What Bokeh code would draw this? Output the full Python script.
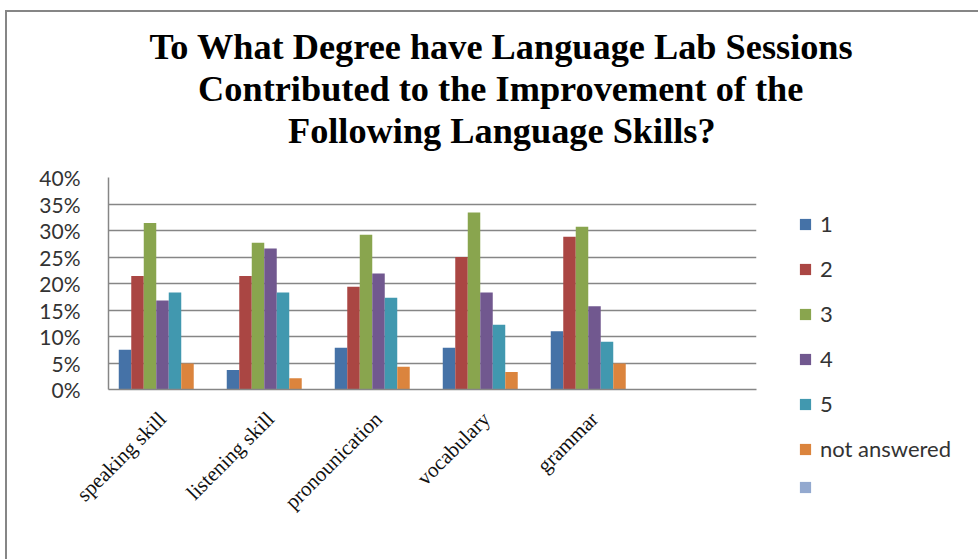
import math
from bokeh.plotting import figure
from bokeh.models import (FactorRange, ColumnDataSource, Legend, LegendItem, Title,
                          NumeralTickFormatter, FixedTicker)
from bokeh.transform import dodge
from bokeh.core.properties import value
from bokeh.embed import file_html
from bokeh.resources import INLINE

# ---------------- data ----------------
categories = ["speaking skill", "listening skill", "pronounication", "vocabulary", "grammar"]
blank_category = " "
series_names = ["1", "2", "3", "4", "5", "not answered", " "]
s1 = [0.075, 0.037, 0.079, 0.079, 0.110]
s2 = [0.214, 0.214, 0.194, 0.250, 0.288]
s3 = [0.314, 0.277, 0.292, 0.334, 0.307]
s4 = [0.168, 0.266, 0.219, 0.183, 0.157]
s5 = [0.183, 0.183, 0.173, 0.122, 0.090]
s_na = [0.049, 0.021, 0.043, 0.033, 0.049]
s_blank = [None, None, None, None, None]
y_ticks = [0, 0.05, 0.10, 0.15, 0.20, 0.25, 0.30, 0.35, 0.40]
title_lines = ["To What Degree have Language Lab Sessions",
               "Contributed to the Improvement of the",
               "Following Language Skills?"]

colors = ["#4572A7", "#AA4643", "#89A54E", "#71588F", "#4198AF", "#DB843D", "#93A9CF"]
series = [s1, s2, s3, s4, s5, s_na, s_blank]

data = {"cat": categories}
keys = []
for i, s in enumerate(series):
    k = f"s{i}"
    keys.append(k)
    data[k] = [float("nan") if v is None else v for v in s]
source = ColumnDataSource(data)

# page offset of the chart box (outer border)
OX, OY, BW = 5, 10, 2
FL, FT, FR, FB = 108, 177, 756, 389   # frame in page pixels
PAGE_W, PAGE_H = 978, 559
p = figure(frame_width=FR - FL, frame_height=FB - FT,
           output_backend="svg", toolbar_location=None,
           x_range=FactorRange(*(categories + [blank_category])),
           y_range=(0, 0.40),
           min_border_left=FL - OX - BW, min_border_right=PAGE_W - FR,
           min_border_top=FT - OY - BW, min_border_bottom=PAGE_H - FB)
p.margin = (OY, 0, 0, OX)
p.styles = {"border-left": f"{BW}px solid #868686", "border-top": f"{BW}px solid #868686",
            "border-right": "none", "border-bottom": "none",
            "box-sizing": "content-box", "overflow": "hidden"}
p.outline_line_color = None
p.background_fill_color = "white"
p.border_fill_color = "white"

bar_w = 0.1157
n = len(series)
renderers = []
for i, k in enumerate(keys):
    off = (i - (n - 1) / 2) * bar_w
    r = p.vbar(x=dodge("cat", off, range=p.x_range), top=k, width=bar_w, bottom=0,
               source=source, fill_color=colors[i], line_color=None)
    renderers.append(r)

items = [LegendItem(label=value(name), renderers=[r]) for name, r in zip(series_names, renderers)]
legend = Legend(items=items, location=(42, -105), padding=0, margin=0,
                spacing=18, label_height=14, glyph_height=14, glyph_width=14,
                label_standoff=8, label_text_font="Lato",
                label_text_font_size="22px", label_text_color="#333333",
                border_line_color=None, background_fill_alpha=0)
p.add_layout(legend, "right")

# axes
p.yaxis.ticker = FixedTicker(ticks=y_ticks)
p.yaxis.formatter = NumeralTickFormatter(format="0%")
p.yaxis.major_tick_line_color = None
p.yaxis.minor_tick_line_color = None
p.yaxis.axis_line_color = "#868686"
p.yaxis.axis_line_width = 1.5
p.yaxis.major_label_text_font = "Lato"
p.yaxis.major_label_text_font_size = "21px"
p.yaxis.major_label_text_color = "#333333"
p.yaxis.major_label_standoff = 22

p.xaxis.major_tick_line_color = None
p.xaxis.minor_tick_line_color = None
p.xaxis.axis_line_color = "#868686"
p.xaxis.axis_line_width = 1.5
p.xaxis.major_label_orientation = math.pi / 4
p.xaxis.major_label_text_font = "Liberation Serif"
p.xaxis.major_label_text_font_size = "21px"
p.xaxis.major_label_text_color = "#111111"
p.xaxis.major_label_standoff = 20

p.xgrid.grid_line_color = None
p.ygrid.grid_line_color = "#868686"
p.ygrid.grid_line_width = 1.5

# titles: spacer first (nearest the frame), then lines bottom-up
p.add_layout(Title(text=" ", text_font_size="22px", standoff=0), "above")
title_size = 36.3
title_em = [19.34, 16.66, 11.71]   # measured line widths in em
title_cx = 500
for line, em in reversed(list(zip(title_lines, title_em))):
    off = title_cx - em * title_size / 2 - FL
    t = Title(text=line, align="left", offset=off, text_font="Liberation Serif",
              text_font_size=f"{title_size}px", text_font_style="bold",
              text_color="black", standoff=0)
    p.add_layout(t, "above")

open("out.html", "w").write(file_html(p, INLINE))
